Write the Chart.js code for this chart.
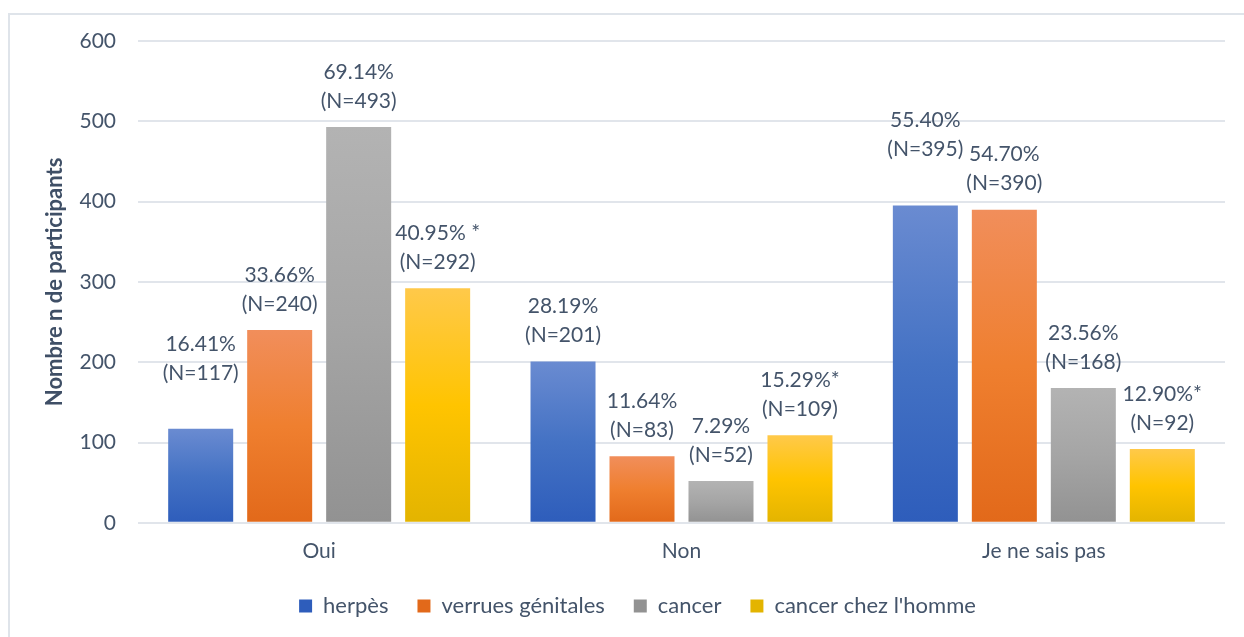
<!DOCTYPE html>
<html>
<head>
<meta charset="utf-8">
<script src="https://cdn.jsdelivr.net/npm/chart.js@4/dist/chart.umd.min.js"></script>
<style>
  html, body { margin: 0; padding: 0; background: #fff; overflow: hidden; }
  #frame { position: absolute; left: 8px; top: 13px; width: 1400px; height: 800px; border: 2px solid #dfe4ea; }
  #chart { position: absolute; left: 0; top: 0; }
</style>
</head>
<body>
<div id="frame"></div>
<canvas id="chart" width="1244" height="637"></canvas>
<script>
const categories = ['Oui', 'Non', 'Je ne sais pas'];

const herpes = [117, 201, 395];
const verrues = [240, 83, 390];
const cancer = [493, 52, 168];
const cancerHomme = [292, 109, 92];

const herpesPct = ['16.41%', '28.19%', '55.40%'];
const verruesPct = ['33.66%', '11.64%', '54.70%'];
const cancerPct = ['69.14%', '7.29%', '23.56%'];
const cancerHommePct = ['40.95% *', '15.29%*', '12.90%*'];

const TEXT = '#44546a';
const GRID = '#e1e5eb';

// each bar gets its own light-to-dark vertical gradient, like the Excel original
const barGradient = (stops) => (ctx) => {
  if (ctx.type !== 'data') return stops[1];
  const chart = ctx.chart;
  const y = chart.scales.y;
  if (!y) return stops[1];
  const top = y.getPixelForValue(ctx.raw);
  const base = y.getPixelForValue(0);
  if (!isFinite(top) || !isFinite(base) || top === base) return stops[1];
  const g = chart.ctx.createLinearGradient(0, top, 0, base);
  g.addColorStop(0, stops[0]);
  g.addColorStop(0.5, stops[1]);
  g.addColorStop(1, stops[2]);
  return g;
};

// two-line labels above each bar; some were dragged higher in the original
const barLabels = {
  id: 'barLabels',
  afterDatasetsDraw(chart, args, opts) {
    const ctx = chart.ctx;
    ctx.save();
    ctx.font = opts.font;
    ctx.fillStyle = opts.color;
    ctx.textAlign = 'center';
    ctx.textBaseline = 'middle';
    chart.data.datasets.forEach((ds, di) => {
      const meta = chart.getDatasetMeta(di);
      meta.data.forEach((bar, i) => {
        const lift = (opts.lift[di] && opts.lift[di][i]) || 0;
        const y2 = bar.y - 26 - lift;
        ctx.fillText(ds.pct[i], bar.x, y2 - 29);
        ctx.fillText('(N=' + ds.data[i] + ')', bar.x, y2);
      });
    });
    ctx.restore();
  }
};

// the Excel legend sits a little right of centre
const legendNudge = {
  id: 'legendNudge',
  afterLayout(chart) {
    const lg = chart.legend;
    if (!lg) return;
    lg.left += 21;
    lg.right += 21;
    lg.top -= 14;
    lg.bottom -= 14;
  }
};

new Chart(document.getElementById('chart'), {
  type: 'bar',
  data: {
    labels: categories,
    datasets: [
      { label: 'herpès', data: herpes, pct: herpesPct,
        backgroundColor: barGradient(['#6a8bd1', '#4472c4', '#2e5dbb']) },
      { label: 'verrues génitales', data: verrues, pct: verruesPct,
        backgroundColor: barGradient(['#f18e5b', '#ef7f2f', '#e2691a']) },
      { label: 'cancer', data: cancer, pct: cancerPct,
        backgroundColor: barGradient(['#b3b3b3', '#a5a5a5', '#929292']) },
      { label: "cancer chez l'homme", data: cancerHomme, pct: cancerHommePct,
        backgroundColor: barGradient(['#ffc94a', '#ffc400', '#e3b400']) },
    ]
  },
  plugins: [barLabels, legendNudge],
  options: {
    responsive: false,
    animation: false,
    layout: {
      padding: { left: 8, right: 19, top: 41, bottom: -4 }
    },
    datasets: {
      bar: {
        categoryPercentage: 0.872,
        barPercentage: 0.823,
        borderWidth: 0,
      }
    },
    scales: {
      x: {
        grid: { display: false, drawTicks: false },
        border: { display: false },
        ticks: {
          color: TEXT,
          padding: 16,
          font: { family: 'Lato', size: 21 }
        }
      },
      y: {
        min: 0,
        max: 600,
        afterFit(scale) { scale.width = 130; },
        ticks: {
          stepSize: 100,
          color: TEXT,
          padding: 22,
          font: { family: 'Lato', size: 21 }
        },
        grid: {
          color: GRID,
          lineWidth: 2,
          drawTicks: false,
        },
        border: { display: false },
        title: {
          display: true,
          text: 'Nombre n de participants',
          color: '#3f4f66',
          padding: { top: 34, bottom: 0 },
          font: { family: 'Lato', size: 22, weight: 'bold' }
        }
      }
    },
    plugins: {
      legend: {
        position: 'bottom',
        maxHeight: 66,
        labels: {
          color: TEXT,
          boxWidth: 13,
          boxHeight: 13,
          padding: 29,
          font: { family: 'Lato', size: 22 }
        }
      },
      tooltip: { enabled: false },
      barLabels: {
        font: '21px Lato',
        color: TEXT,
        lift: [[30, 0, 30]]
      }
    }
  }
});
</script>
</body>
</html>
